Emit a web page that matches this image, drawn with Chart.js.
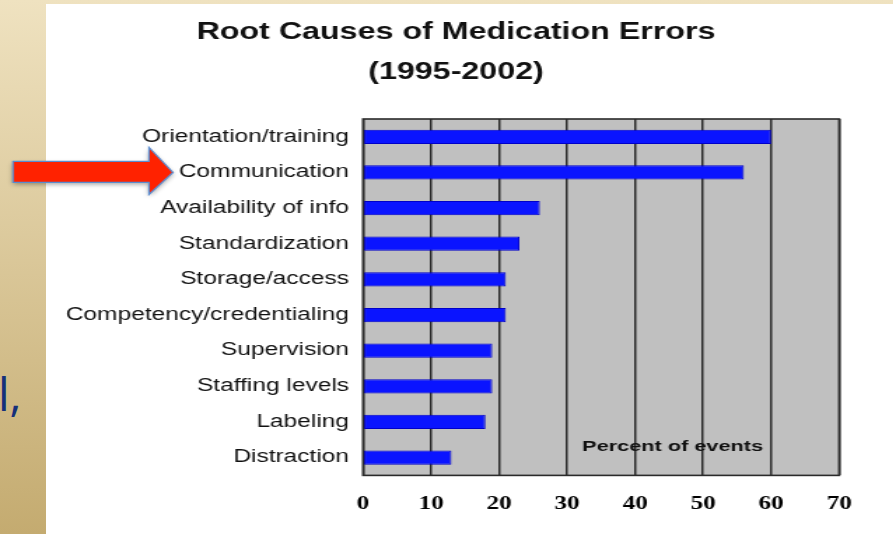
<!DOCTYPE html>
<html>
<head>
<meta charset="utf-8">
<script src="https://cdn.jsdelivr.net/npm/chart.js@4/dist/chart.umd.min.js"></script>
<style>
html,body{margin:0;padding:0;}
body{
    width:893px;height:534px;overflow:hidden;position:relative;
    background:linear-gradient(#efe2c0,#c4ab70);
}
#panel{position:absolute;left:46px;top:4px;width:847px;height:530px;background:#fff;}
#frag{
    position:absolute;left:-2px;top:362px;
    font:46px "Open Sans","Liberation Sans",sans-serif;color:#15307a;
}
/* the slide picture is stretched sideways, so the chart is drawn narrow and widened */
#chart{position:absolute;left:0;top:0;transform:scaleX(1.4);transform-origin:0 0;}
</style>
</head>
<body>
<div id="panel"></div>
<div id="frag">l,</div>
<canvas id="chart" width="638" height="534"></canvas>
<script>

const causes = [
    "Orientation/training",
    "Communication",
    "Availability of info",
    "Standardization",
    "Storage/access",
    "Competency/credentialing",
    "Supervision",
    "Staffing levels",
    "Labeling",
    "Distraction"
];

const percentOfEvents = [60, 56, 26, 23, 21, 21, 19, 19, 18, 13];

const xTicks = [0, 10, 20, 30, 40, 50, 60, 70];

const titleLines = [
    "Root Causes of Medication Errors",
    "(1995-2002)"
];

const axisTitle = "Percent of events";

const stretch = 1.4;

// title, gray plot box, its frame, the in-plot axis title and the red arrow
const decor = {
    id:"decor",
    beforeDraw(chart){
        const a = chart.chartArea;
        const ctx = chart.ctx;
        ctx.save();
        ctx.fillStyle = "#c0c0c0";
        ctx.fillRect(a.left, a.top, a.right - a.left, a.bottom - a.top);

        ctx.fillStyle = "#111";
        ctx.font = "bold 23px 'Liberation Sans', Arial, sans-serif";
        ctx.textAlign = "center";
        ctx.textBaseline = "middle";
        titleLines.forEach((line, i) => {
            ctx.fillText(line, 456 / stretch, 33 + i * 40);
        });
        ctx.restore();
    },
    afterDatasetsDraw(chart){
        const a = chart.chartArea;
        const ctx = chart.ctx;
        ctx.save();
        ctx.strokeStyle = "#2a2a2a";
        ctx.lineWidth = 1.6;
        ctx.strokeRect(a.left, a.top, a.right - a.left, a.bottom - a.top);

        ctx.fillStyle = "#111";
        ctx.font = "bold 15.5px 'Liberation Sans', Arial, sans-serif";
        ctx.textAlign = "center";
        ctx.textBaseline = "middle";
        ctx.fillText(axisTitle, a.right - 119, a.bottom - 29);

        // arrow pointing at the Communication label
        const y = chart.scales.y.getPixelForValue(1);
        const x0 = 13 / stretch, x1 = 149 / stretch, x2 = 173 / stretch;
        ctx.beginPath();
        ctx.moveTo(x0, y - 11);
        ctx.lineTo(x1, y - 11);
        ctx.lineTo(x1, y - 25);
        ctx.lineTo(x2, y);
        ctx.lineTo(x1, y + 22);
        ctx.lineTo(x1, y + 10);
        ctx.lineTo(x0, y + 10);
        ctx.closePath();
        ctx.shadowColor = "rgba(0,0,0,0.35)";
        ctx.shadowBlur = 4;
        ctx.shadowOffsetY = 2;
        ctx.fillStyle = "#ff2200";
        ctx.fill();
        ctx.shadowColor = "transparent";
        ctx.strokeStyle = "#5a8cd0";
        ctx.lineWidth = 1.2;
        ctx.stroke();
        ctx.restore();
    }
};

new Chart(document.getElementById("chart"), {
    type:"bar",
    data:{
        labels:causes,
        datasets:[{
            data:percentOfEvents,
            backgroundColor:"#0a14ff",
            borderColor:"#0000c8",
            borderWidth:1,
            borderSkipped:false,
            barPercentage:0.4,
            categoryPercentage:1
        }]
    },
    options:{
        indexAxis:"y",
        responsive:false,
        animation:false,
        layout:{padding:{left:0, right:38.6, top:119, bottom:1}},
        plugins:{
            legend:{display:false},
            tooltip:{enabled:false},
            title:{display:false}
        },
        scales:{
            x:{
                min:0,
                max:70,
                afterBuildTicks(scale){
                    scale.ticks = xTicks.map(v => ({value:v}));
                },
                grid:{color:"#2a2a2a", lineWidth:1.5, drawTicks:false},
                border:{display:false},
                ticks:{
                    color:"#000",
                    padding:18,
                    font:{family:"'Liberation Serif', 'Times New Roman', serif", size:18, weight:"bold"}
                }
            },
            y:{
                afterFit(scale){
                    scale.width = 259.3;
                },
                grid:{display:false, drawTicks:false},
                border:{display:false},
                ticks:{
                    color:"#111",
                    padding:10,
                    font:{family:"'Liberation Sans', Arial, sans-serif", size:17.5}
                }
            }
        }
    },
    plugins:[decor]
});
</script>
</body>
</html>
